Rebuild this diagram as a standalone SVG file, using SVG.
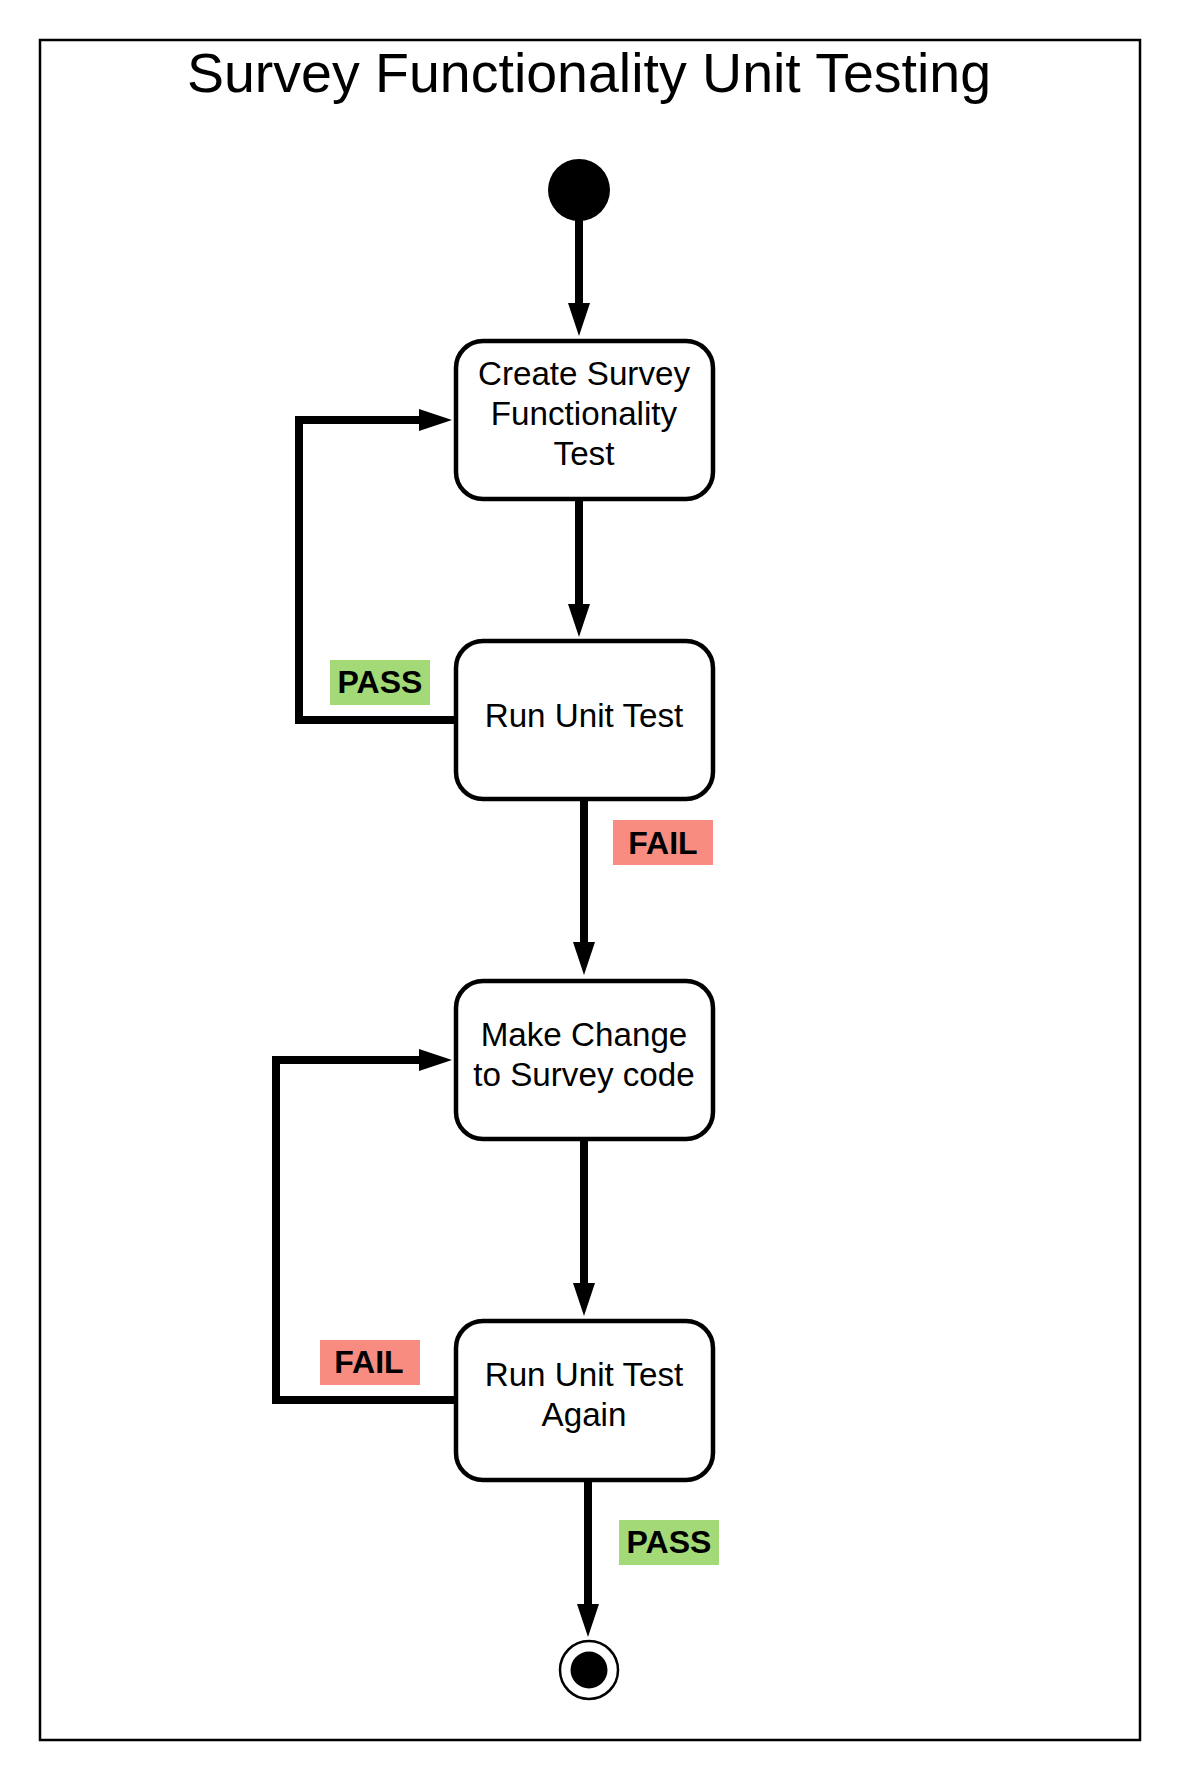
<svg xmlns="http://www.w3.org/2000/svg" width="1180" height="1780" viewBox="0 0 1180 1780">
<style>
.frame{fill:#ffffff;stroke:#000;stroke-width:2.5}
.title{font-family:"Liberation Sans",Arial,sans-serif;font-size:55.5px;fill:#000;text-anchor:middle}
.box{fill:#fff;stroke:#000;stroke-width:4.5}
.btxt{font-family:"Liberation Sans",Arial,sans-serif;font-size:33.2px;fill:#000;text-anchor:middle}
.lbl{font-family:"Liberation Sans",Arial,sans-serif;font-size:32px;font-weight:bold;fill:#000;text-anchor:middle}
.pass{fill:#a3d977}
.fail{fill:#f98c80}
.conn{fill:none;stroke:#000;stroke-width:8;stroke-linejoin:miter;stroke-linecap:butt;marker-end:url(#arr)}
</style>
<defs>
<marker id="arr" markerUnits="userSpaceOnUse" viewBox="0 0 34 24" markerWidth="34" markerHeight="24" refX="0" refY="12" orient="auto">
<path d="M0,1 L33,12 L0,23 z" fill="#000"/>
</marker>
</defs>
<rect class="frame" x="40" y="40" width="1100" height="1700"/>
<text class="title" x="589" y="92">Survey Functionality Unit Testing</text>
<g id="connectors">
<path class="conn" d="M579,215 V303"/>
<path class="conn" d="M579,501 V604"/>
<path class="conn" d="M584,801 V942"/>
<path class="conn" d="M584,1141 V1283"/>
<path class="conn" d="M588,1482 V1604"/>
<path class="conn" d="M456,720 H299 V420 H419"/>
<path class="conn" d="M456,1400 H276 V1060 H419"/>
</g>
<g id="start"><circle cx="579" cy="190" r="31" fill="#000"/></g>
<g id="create">
<rect class="box" x="456" y="341" width="257" height="158" rx="27"/>
<text class="btxt" x="584" y="385">Create Survey</text>
<text class="btxt" x="584" y="425">Functionality</text>
<text class="btxt" x="584" y="465">Test</text>
</g>
<g id="run">
<rect class="box" x="456" y="641" width="257" height="158" rx="27"/>
<text class="btxt" x="584" y="727">Run Unit Test</text>
</g>
<g id="make">
<rect class="box" x="456" y="981" width="257" height="158" rx="27"/>
<text class="btxt" x="584" y="1046">Make Change</text>
<text class="btxt" x="584" y="1086">to Survey code</text>
</g>
<g id="again">
<rect class="box" x="456" y="1321" width="257" height="159" rx="27"/>
<text class="btxt" x="584" y="1386">Run Unit Test</text>
<text class="btxt" x="584" y="1426">Again</text>
</g>
<g id="end">
<circle cx="589" cy="1670" r="29" fill="#fff" stroke="#000" stroke-width="2.5"/>
<circle cx="589" cy="1670" r="18.5" fill="#000"/>
</g>
<g id="label-pass1">
<rect class="pass" x="330" y="660" width="100" height="45"/>
<text class="lbl" x="380" y="693">PASS</text>
</g>
<g id="label-fail1">
<rect class="fail" x="613" y="820" width="100" height="45"/>
<text class="lbl" x="663" y="854">FAIL</text>
</g>
<g id="label-fail2">
<rect class="fail" x="320" y="1340" width="100" height="45"/>
<text class="lbl" x="369" y="1373">FAIL</text>
</g>
<g id="label-pass2">
<rect class="pass" x="619" y="1520" width="100" height="45"/>
<text class="lbl" x="669" y="1553">PASS</text>
</g>
</svg>
